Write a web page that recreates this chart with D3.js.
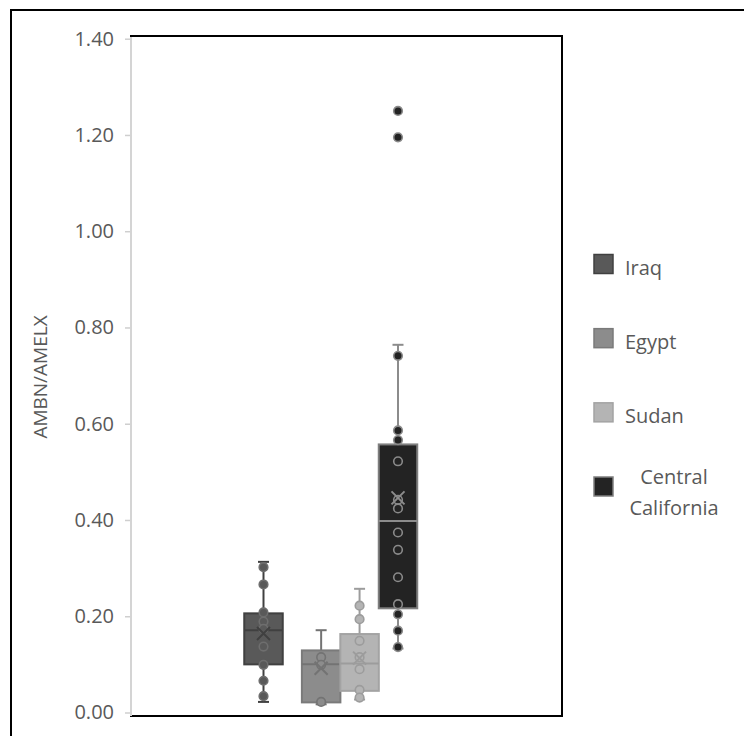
<!DOCTYPE html>
<html>
<head>
<meta charset="utf-8">
<script src="https://cdn.jsdelivr.net/npm/d3@7/dist/d3.min.js"></script>
<style>
  html, body { margin: 0; padding: 0; background: #fff; }
  svg { display: block; font-family: "Open Sans", "Noto Sans", sans-serif; }
</style>
</head>
<body>
<svg id="chart" width="744" height="736"></svg>
<script>
// Regions and box-and-whisker summaries (AMBN/AMELX ratio)
const categories = ["Iraq", "Egypt", "Sudan", "Central California"];
const whiskerLow  = [0.022, 0.017, 0.027, 0.133];
const q1          = [0.100, 0.021, 0.045, 0.2165];
const median      = [0.171, 0.100, 0.102, 0.398];
const q3          = [0.206, 0.129, 0.163, 0.557];
const whiskerHigh = [0.313, 0.171, 0.257, 0.764];
const mean        = [0.164, 0.092, 0.113, 0.446];

// Individual samples per region
const iraqPoints  = [0.302, 0.266, 0.208, 0.189, 0.174, 0.137, 0.099, 0.066, 0.034];
const egyptPoints = [0.115, 0.099, 0.022];
const sudanPoints = [0.222, 0.194, 0.149, 0.115, 0.090, 0.047, 0.031];
const ccPoints    = [1.250, 1.195, 0.741, 0.586, 0.566, 0.522, 0.442, 0.424, 0.374,
                     0.338, 0.281, 0.225, 0.204, 0.170, 0.136];
const pointSets = [iraqPoints, egyptPoints, sudanPoints, ccPoints];

const yTicks = [0, 0.2, 0.4, 0.6, 0.8, 1.0, 1.2, 1.4];

// Visual styling per series
const styles = [
  { fill: "#595959", edge: "#404040", line: "#404040", ring: "#6e6e6e" },
  { fill: "#8c8c8c", edge: "#7a7a7a", line: "#737373", ring: "#737373" },
  { fill: "#b4b4b4", edge: "#a3a3a3", line: "#9c9c9c", ring: "#9c9c9c" },
  { fill: "#232323", edge: "#7f7f7f", line: "#8c8c8c", ring: "#8a8a8a" }
];
// Slot of each box along the category axis (first box sits apart from the rest)
const slotOffset = [0, 1.5, 2.5, 3.5];

const svg = d3.select("#chart");

// Outer chart border
svg.append("rect")
  .attr("x", 11).attr("y", 10).attr("width", 800).attr("height", 800)
  .attr("fill", "none").attr("stroke", "#000").attr("stroke-width", 2);

const plot = { left: 130, right: 562, top: 36, bottom: 716 };

const y = d3.scaleLinear().domain([0, 1.4]).range([712.5, 38.7]);
const slot = d3.scaleLinear().domain([0, 3.5]).range([263.5, 398]);
const boxW = 38.5;
const capW = 11;

// Plot frame
svg.append("path")
  .attr("d", `M${plot.left},${plot.top}H${plot.right}V${plot.bottom}H${plot.left}`)
  .attr("fill", "none").attr("stroke", "#000").attr("stroke-width", 2);

// Y axis
const yAxis = d3.axisLeft(y)
  .tickValues(yTicks)
  .tickFormat(d3.format(".2f"))
  .tickSize(6)
  .tickPadding(11);

const ax = svg.append("g")
  .attr("transform", `translate(${plot.left + 1},0)`)
  .call(yAxis);
ax.select(".domain").remove();
ax.selectAll(".tick line").attr("stroke", "#cfcfcf").attr("stroke-width", 1.5);
ax.selectAll(".tick text")
  .attr("fill", "#595959")
  .style("font-size", "20px")
  .style("font-family", "'Open Sans', sans-serif");

svg.append("line")
  .attr("x1", plot.left + 1).attr("x2", plot.left + 1)
  .attr("y1", plot.top + 1).attr("y2", plot.bottom)
  .attr("stroke", "#d4d4d4").attr("stroke-width", 2);

// Axis title
svg.append("text")
  .attr("transform", "translate(47,377) rotate(-90)")
  .attr("text-anchor", "middle")
  .attr("fill", "#595959")
  .style("font-size", "19px")
  .text("AMBN/AMELX");

// Boxes
categories.forEach((cat, i) => {
  const s = styles[i];
  const cx = slot(slotOffset[i]);
  const g = svg.append("g").attr("class", "series");

  // whiskers
  g.append("line")
    .attr("x1", cx).attr("x2", cx)
    .attr("y1", y(whiskerHigh[i])).attr("y2", y(q3[i]))
    .attr("stroke", s.line).attr("stroke-width", 2);
  g.append("line")
    .attr("x1", cx).attr("x2", cx)
    .attr("y1", y(q1[i])).attr("y2", y(whiskerLow[i]))
    .attr("stroke", s.line).attr("stroke-width", 2);
  [whiskerHigh[i], whiskerLow[i]].forEach(v => {
    g.append("line")
      .attr("x1", cx - capW / 2).attr("x2", cx + capW / 2)
      .attr("y1", y(v)).attr("y2", y(v))
      .attr("stroke", s.line).attr("stroke-width", 2);
  });

  // box
  g.append("rect")
    .attr("x", cx - boxW / 2).attr("width", boxW)
    .attr("y", y(q3[i])).attr("height", y(q1[i]) - y(q3[i]))
    .attr("fill", s.fill).attr("stroke", s.edge).attr("stroke-width", 2);

  // median
  g.append("line")
    .attr("x1", cx - boxW / 2).attr("x2", cx + boxW / 2)
    .attr("y1", y(median[i])).attr("y2", y(median[i]))
    .attr("stroke", s.line).attr("stroke-width", 2);

  // sample points
  g.selectAll("circle.pt")
    .data(pointSets[i])
    .join("circle")
    .attr("class", "pt")
    .attr("cx", cx).attr("cy", d => y(d)).attr("r", 4.3)
    .attr("fill", s.fill).attr("stroke", s.ring).attr("stroke-width", 1.6);

  // mean marker
  const my = y(mean[i]), m = 6.5;
  g.append("path")
    .attr("d", `M${cx - m},${my - m}L${cx + m},${my + m}M${cx - m},${my + m}L${cx + m},${my - m}`)
    .attr("stroke", s.line).attr("stroke-width", 2).attr("fill", "none");
});

// Legend
const legendY = d3.scalePoint().domain(categories).range([264.5, 487]);
categories.forEach((cat, i) => {
  const s = styles[i];
  const cy = legendY(cat);
  svg.append("rect")
    .attr("x", 594).attr("y", cy - 10).attr("width", 19).attr("height", 19)
    .attr("fill", s.fill).attr("stroke", s.edge).attr("stroke-width", 1.5);
  if (cat === "Central California") {
    const t = svg.append("text")
      .attr("text-anchor", "middle")
      .attr("fill", "#595959")
      .style("font-size", "20px");
    t.append("tspan").attr("x", 674).attr("y", 484).text("Central");
    t.append("tspan").attr("x", 674).attr("y", 515).text("California");
  } else {
    svg.append("text")
      .attr("x", 625).attr("y", cy + 10)
      .attr("fill", "#595959")
      .style("font-size", "20px")
      .text(cat);
  }
});
</script>
</body>
</html>
